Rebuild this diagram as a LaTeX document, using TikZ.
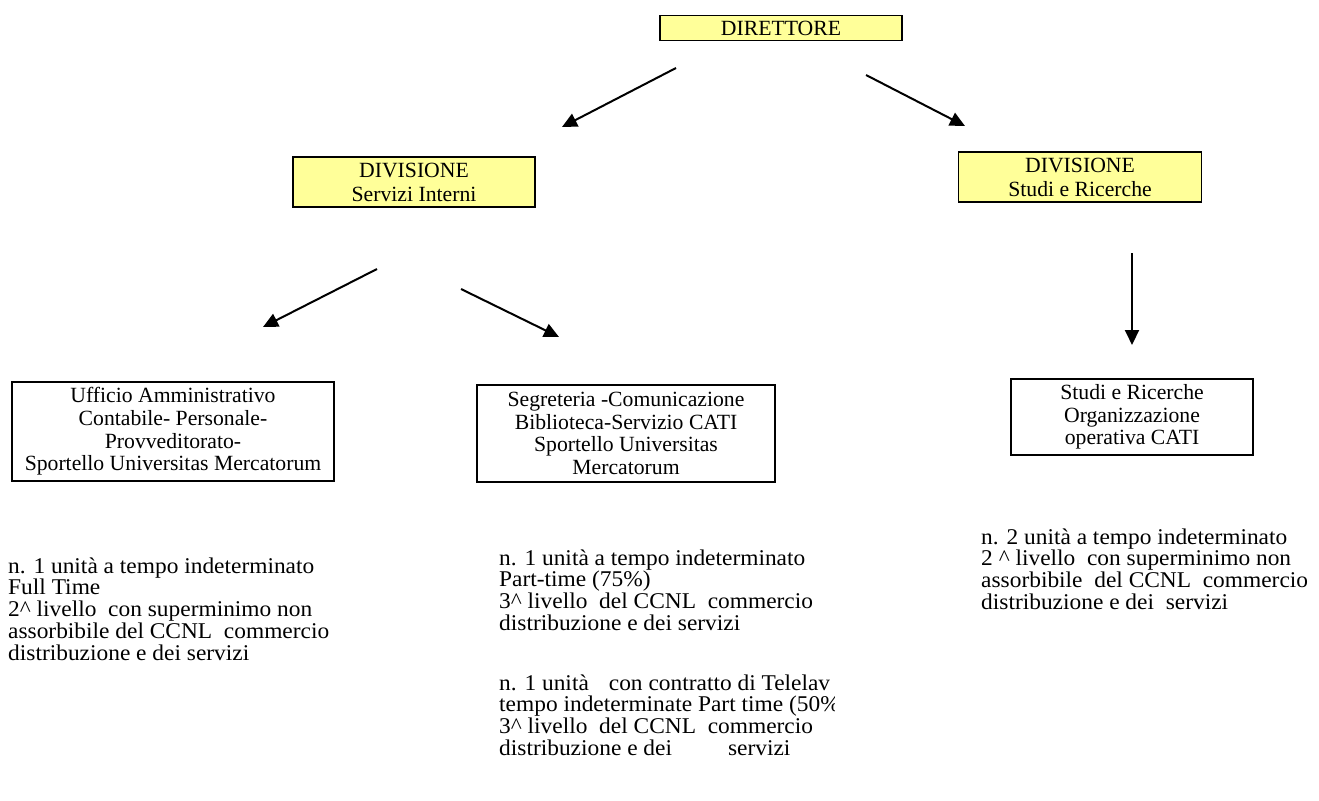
\documentclass[tikz,border=0pt]{standalone}
\usepackage{fontspec}
\setmainfont{Liberation Serif}
\newfontfamily\freefont{Liberation Serif}[FakeStretch=1.04]
\usetikzlibrary{arrows.meta}
\definecolor{boxyellow}{HTML}{FFFF99}
\lineskiplimit=-20pt
\tikzset{
  ybox/.style={draw=black, line width=1.8pt, fill=boxyellow, inner sep=0pt, align=center,
    font=\fontsize{21.7}{24}\selectfont},
  wbox/.style={draw=black, line width=1.8pt, fill=white, inner sep=0pt, align=center,
    font=\fontsize{21.7}{22.7}\selectfont},
  freetext/.style={anchor=north west, inner sep=0pt, align=left,
    font=\freefont\fontsize{22.5}{21.7}\selectfont},
  arr/.style={line width=2pt, -{Triangle[length=15pt,width=14pt]}}
}
\newcommand{\topstrut}{\rule{0pt}{16pt}}
\begin{document}
\begin{tikzpicture}[x=1pt,y=-1pt]
\useasboundingbox (0,0) rectangle (1319,800);
% boxes
\node[ybox, minimum width=242pt, minimum height=25pt] (dir) at (781,28) {DIRETTORE};
\node[ybox, minimum width=242pt, minimum height=50pt] (si) at (414,182) {DIVISIONE\\Servizi Interni};
\node[ybox, minimum width=243pt, minimum height=50pt] (sr) at (1080,177) {DIVISIONE\\Studi e Ricerche};
\node[wbox, minimum width=322pt, minimum height=99pt] (uff) at (173,431.5) {Ufficio Amministrativo\\Contabile- Personale-\\Provveditorato-\\Sportello Universitas Mercatorum};
\node[wbox, minimum width=298pt, minimum height=97pt] (seg) at (626,433.5) {Segreteria -Comunicazione\\Biblioteca-Servizio CATI\\Sportello Universitas\\Mercatorum};
\node[wbox, minimum width=242pt, minimum height=76pt] (stu) at (1132,417) {Studi e Ricerche\\Organizzazione\\operativa CATI};
% arrows
\coordinate (a1s) at (676,68);  \coordinate (a1e) at (562,127);
\coordinate (a2s) at (866,75);  \coordinate (a2e) at (965,126);
\coordinate (a3s) at (377,269); \coordinate (a3e) at (263,327);
\coordinate (a4s) at (461,289); \coordinate (a4e) at (559,337);
\coordinate (a5s) at (1132,253); \coordinate (a5e) at (1132,345);
\draw[arr] (a1s) -- (a1e);
\draw[arr] (a2s) -- (a2e);
\draw[arr] (a3s) -- (a3e);
\draw[arr] (a4s) -- (a4e);
\draw[arr] (a5s) -- (a5e);
% free texts
\node[freetext] (t1) at (8,557) {\topstrut n. 1 unità a tempo indeterminato\\Full Time\\2\^{} livello\ \ con superminimo non\\assorbibile del CCNL\ \ commercio\\distribuzione e dei servizi};
\node[freetext] (t2) at (499,549) {\topstrut n. 1 unità a tempo indeterminato\\Part-time (75\%)\\3\^{} livello\ \ del CCNL\ \ commercio\\distribuzione e dei servizi};
\begin{scope}
\clip (490,660) rectangle (834,790);
\node[freetext] (t3) at (499,674) {\topstrut n. 1 unità\hspace*{20pt}con contratto di Telelav\\tempo indeterminate Part time (50\%\\3\^{} livello\ \ del CCNL\ \ commercio\\distribuzione e dei\hspace*{56pt}servizi};
\end{scope}
\node[freetext] (t4) at (981,528) {\topstrut n. 2 unità a tempo indeterminato\\2 \^{} livello\ \ con superminimo non\\assorbibile\ \ del CCNL\ \ commercio\\distribuzione e dei\ \ servizi};
\end{tikzpicture}
\end{document}
